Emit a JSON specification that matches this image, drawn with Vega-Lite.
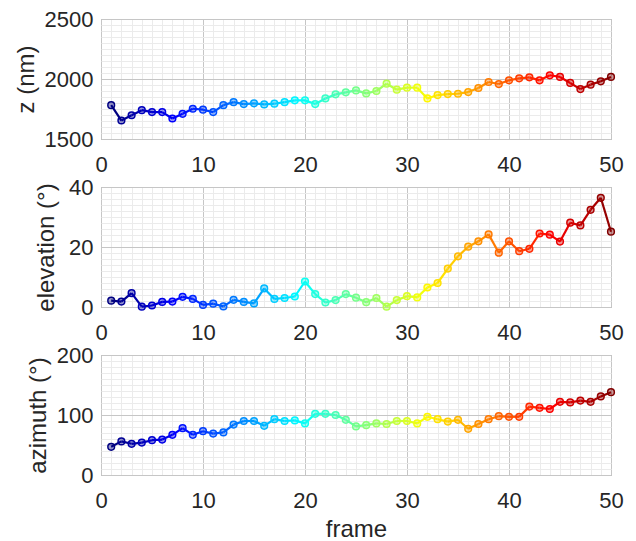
{
  "$schema": "https://vega.github.io/schema/vega-lite/v6.json",
  "padding": {"top": 7, "left": 13, "right": 5, "bottom": 0},
  "bounds": "flush",
  "spacing": 48,
  "config": {
    "view": {"stroke": "#a0a0a0", "strokeWidth": 1},
    "font": "Liberation Sans",
    "axis": {
      "labelFont": "Liberation Sans", "titleFont": "Liberation Sans",
      "labelFontSize": 22, "titleFontSize": 24, "titleFontWeight": "normal",
      "labelColor": "#262626", "titleColor": "#262626", "labelFlush": false, "labelOverlap": false,
      "domain": false, "ticks": false, "tickSize": 0, "format": "d",
      "gridColor": "#c6c6c6", "gridWidth": 1, "gridOpacity": 1
    }
  },
  "data": {"values": [
    {"frame":1,"z":1782,"elev":2.1,"azim":47},
    {"frame":2,"z":1654,"elev":1.8,"azim":56},
    {"frame":3,"z":1698,"elev":4.6,"azim":52},
    {"frame":4,"z":1740,"elev":0.1,"azim":54},
    {"frame":5,"z":1724,"elev":0.5,"azim":58},
    {"frame":6,"z":1724,"elev":1.7,"azim":59},
    {"frame":7,"z":1671,"elev":1.8,"azim":67},
    {"frame":8,"z":1710,"elev":3.4,"azim":78},
    {"frame":9,"z":1752,"elev":2.7,"azim":67},
    {"frame":10,"z":1744,"elev":0.7,"azim":73},
    {"frame":11,"z":1724,"elev":1.1,"azim":69},
    {"frame":12,"z":1782,"elev":0.2,"azim":71},
    {"frame":13,"z":1807,"elev":2.4,"azim":84},
    {"frame":14,"z":1791,"elev":1.7,"azim":90},
    {"frame":15,"z":1797,"elev":1.2,"azim":90},
    {"frame":16,"z":1788,"elev":6.2,"azim":82},
    {"frame":17,"z":1794,"elev":2.7,"azim":93},
    {"frame":18,"z":1807,"elev":3.0,"azim":90},
    {"frame":19,"z":1822,"elev":3.5,"azim":91},
    {"frame":20,"z":1822,"elev":8.5,"azim":86},
    {"frame":21,"z":1791,"elev":4.3,"azim":102},
    {"frame":22,"z":1838,"elev":1.5,"azim":102},
    {"frame":23,"z":1872,"elev":2.3,"azim":100},
    {"frame":24,"z":1889,"elev":4.3,"azim":92},
    {"frame":25,"z":1905,"elev":3.1,"azim":81},
    {"frame":26,"z":1880,"elev":1.6,"azim":83},
    {"frame":27,"z":1900,"elev":3.0,"azim":86},
    {"frame":28,"z":1961,"elev":0.1,"azim":85},
    {"frame":29,"z":1911,"elev":2.3,"azim":90},
    {"frame":30,"z":1928,"elev":3.6,"azim":90},
    {"frame":31,"z":1928,"elev":3.2,"azim":86},
    {"frame":32,"z":1838,"elev":6.5,"azim":97},
    {"frame":33,"z":1866,"elev":8.0,"azim":93},
    {"frame":34,"z":1874,"elev":12.8,"azim":89},
    {"frame":35,"z":1877,"elev":16.9,"azim":92},
    {"frame":36,"z":1891,"elev":20.1,"azim":77},
    {"frame":37,"z":1925,"elev":21.9,"azim":85},
    {"frame":38,"z":1975,"elev":24.2,"azim":93},
    {"frame":39,"z":1958,"elev":18.1,"azim":98},
    {"frame":40,"z":1989,"elev":21.9,"azim":97},
    {"frame":41,"z":2006,"elev":18.6,"azim":97},
    {"frame":42,"z":2014,"elev":19.4,"azim":114},
    {"frame":43,"z":1989,"elev":24.5,"azim":112},
    {"frame":44,"z":2031,"elev":24.1,"azim":110},
    {"frame":45,"z":2017,"elev":21.8,"azim":122},
    {"frame":46,"z":1967,"elev":28.1,"azim":121},
    {"frame":47,"z":1916,"elev":27.2,"azim":124},
    {"frame":48,"z":1953,"elev":32.4,"azim":122},
    {"frame":49,"z":1981,"elev":36.4,"azim":131},
    {"frame":50,"z":2017,"elev":25.1,"azim":138}
  ]},
  "transform": [
    {"window": [
      {"op": "lead", "field": "frame", "as": "frame2"},
      {"op": "lead", "field": "z", "as": "z2"},
      {"op": "lead", "field": "elev", "as": "elev2"},
      {"op": "lead", "field": "azim", "as": "azim2"}
    ], "sort": [{"field": "frame"}], "frame": [null, null]}
  ],
  "vconcat": [
    {
      "width": 510, "height": 120,
      "resolve": {"axis": {"x": "independent", "y": "independent"}},
      "layer": [
        {
          "transform": [{"filter": "datum.frame2 != null"}],
          "mark": {"type": "rule", "strokeWidth": 2.2},
          "encoding": {
            "x": {"field": "frame", "type": "quantitative", "scale": {"domain": [0, 50], "nice": false, "zero": false},
                  "axis": {"values": [0,10,20,30,40,50], "title": null, "labelPadding": 15, "grid": true}},
            "x2": {"field": "frame2"},
            "y": {"field": "z", "type": "quantitative", "scale": {"domain": [1500, 2500], "nice": false, "zero": false},
                  "axis": {"values": [1500,2000,2500], "title": "z (nm)", "labelPadding": 8, "titlePadding": 6, "grid": true}},
            "y2": {"field": "z2"},
            "color": {"field": "frame", "type": "quantitative", "legend": null,
                      "scale": {"domain": [1,7.125,19.375,31.625,43.875,50], "range": ["#000080","#0000ff","#00ffff","#ffff00","#ff0000","#800000"], "interpolate": "rgb"}}
          }
        },
        {
          "mark": {"type": "point", "filled": true, "size": 45, "fillOpacity": 0.4, "strokeWidth": 1.5, "strokeOpacity": 1},
          "encoding": {
            "x": {"field": "frame", "type": "quantitative", "scale": {"domain": [0, 50], "nice": false, "zero": false},
                  "axis": {"orient": "top", "labels": false, "title": null, "grid": true, "gridColor": "#ebebeb",
                           "values": [1,2,3,4,5,6,7,8,9,11,12,13,14,15,16,17,18,19,21,22,23,24,25,26,27,28,29,31,32,33,34,35,36,37,38,39,41,42,43,44,45,46,47,48,49]}},
            "y": {"field": "z", "type": "quantitative", "scale": {"domain": [1500, 2500], "nice": false, "zero": false},
                  "axis": {"orient": "right", "labels": false, "title": null, "grid": true, "gridColor": "#ebebeb",
                           "values": [1550,1600,1650,1700,1750,1800,1850,1900,1950,2050,2100,2150,2200,2250,2300,2350,2400,2450]}},
            "fill": {"field": "frame", "type": "quantitative", "legend": null,
                     "scale": {"domain": [1,7.125,19.375,31.625,43.875,50], "range": ["#000080","#0000ff","#00ffff","#ffff00","#ff0000","#800000"], "interpolate": "rgb"}},
            "stroke": {"field": "frame", "type": "quantitative", "legend": null,
                       "scale": {"domain": [1,7.125,19.375,31.625,43.875,50], "range": ["#000080","#0000ff","#00ffff","#ffff00","#ff0000","#800000"], "interpolate": "rgb"}}
          }
        }
      ]
    },
    {
      "width": 510, "height": 120,
      "resolve": {"axis": {"x": "independent", "y": "independent"}},
      "layer": [
        {
          "transform": [{"filter": "datum.frame2 != null"}],
          "mark": {"type": "rule", "strokeWidth": 2.2},
          "encoding": {
            "x": {"field": "frame", "type": "quantitative", "scale": {"domain": [0, 50], "nice": false, "zero": false},
                  "axis": {"values": [0,10,20,30,40,50], "title": null, "labelPadding": 15, "grid": true}},
            "x2": {"field": "frame2"},
            "y": {"field": "elev", "type": "quantitative", "scale": {"domain": [0, 40], "nice": false},
                  "axis": {"values": [0,20,40], "title": "elevation (°)", "labelPadding": 8, "titlePadding": 10, "grid": true}},
            "y2": {"field": "elev2"},
            "color": {"field": "frame", "type": "quantitative", "legend": null,
                      "scale": {"domain": [1,7.125,19.375,31.625,43.875,50], "range": ["#000080","#0000ff","#00ffff","#ffff00","#ff0000","#800000"], "interpolate": "rgb"}}
          }
        },
        {
          "mark": {"type": "point", "filled": true, "size": 45, "fillOpacity": 0.4, "strokeWidth": 1.5, "strokeOpacity": 1},
          "encoding": {
            "x": {"field": "frame", "type": "quantitative", "scale": {"domain": [0, 50], "nice": false, "zero": false},
                  "axis": {"orient": "top", "labels": false, "title": null, "grid": true, "gridColor": "#ebebeb",
                           "values": [1,2,3,4,5,6,7,8,9,11,12,13,14,15,16,17,18,19,21,22,23,24,25,26,27,28,29,31,32,33,34,35,36,37,38,39,41,42,43,44,45,46,47,48,49]}},
            "y": {"field": "elev", "type": "quantitative", "scale": {"domain": [0, 40], "nice": false},
                  "axis": {"orient": "right", "labels": false, "title": null, "grid": true, "gridColor": "#ebebeb",
                           "values": [2,4,6,8,10,12,14,16,18,22,24,26,28,30,32,34,36,38]}},
            "fill": {"field": "frame", "type": "quantitative", "legend": null,
                     "scale": {"domain": [1,7.125,19.375,31.625,43.875,50], "range": ["#000080","#0000ff","#00ffff","#ffff00","#ff0000","#800000"], "interpolate": "rgb"}},
            "stroke": {"field": "frame", "type": "quantitative", "legend": null,
                       "scale": {"domain": [1,7.125,19.375,31.625,43.875,50], "range": ["#000080","#0000ff","#00ffff","#ffff00","#ff0000","#800000"], "interpolate": "rgb"}}
          }
        }
      ]
    },
    {
      "width": 510, "height": 120,
      "resolve": {"axis": {"x": "independent", "y": "independent"}},
      "layer": [
        {
          "transform": [{"filter": "datum.frame2 != null"}],
          "mark": {"type": "rule", "strokeWidth": 2.2},
          "encoding": {
            "x": {"field": "frame", "type": "quantitative", "scale": {"domain": [0, 50], "nice": false, "zero": false},
                  "axis": {"values": [0,10,20,30,40,50], "title": "frame", "labelPadding": 15, "titlePadding": 6, "grid": true}},
            "x2": {"field": "frame2"},
            "y": {"field": "azim", "type": "quantitative", "scale": {"domain": [0, 200], "nice": false},
                  "axis": {"values": [0,100,200], "title": "azimuth (°)", "labelPadding": 8, "titlePadding": 6, "grid": true}},
            "y2": {"field": "azim2"},
            "color": {"field": "frame", "type": "quantitative", "legend": null,
                      "scale": {"domain": [1,7.125,19.375,31.625,43.875,50], "range": ["#000080","#0000ff","#00ffff","#ffff00","#ff0000","#800000"], "interpolate": "rgb"}}
          }
        },
        {
          "mark": {"type": "point", "filled": true, "size": 45, "fillOpacity": 0.4, "strokeWidth": 1.5, "strokeOpacity": 1},
          "encoding": {
            "x": {"field": "frame", "type": "quantitative", "scale": {"domain": [0, 50], "nice": false, "zero": false},
                  "axis": {"orient": "top", "labels": false, "title": null, "grid": true, "gridColor": "#ebebeb",
                           "values": [1,2,3,4,5,6,7,8,9,11,12,13,14,15,16,17,18,19,21,22,23,24,25,26,27,28,29,31,32,33,34,35,36,37,38,39,41,42,43,44,45,46,47,48,49]}},
            "y": {"field": "azim", "type": "quantitative", "scale": {"domain": [0, 200], "nice": false},
                  "axis": {"orient": "right", "labels": false, "title": null, "grid": true, "gridColor": "#ebebeb",
                           "values": [10,20,30,40,50,60,70,80,90,110,120,130,140,150,160,170,180,190]}},
            "fill": {"field": "frame", "type": "quantitative", "legend": null,
                     "scale": {"domain": [1,7.125,19.375,31.625,43.875,50], "range": ["#000080","#0000ff","#00ffff","#ffff00","#ff0000","#800000"], "interpolate": "rgb"}},
            "stroke": {"field": "frame", "type": "quantitative", "legend": null,
                       "scale": {"domain": [1,7.125,19.375,31.625,43.875,50], "range": ["#000080","#0000ff","#00ffff","#ffff00","#ff0000","#800000"], "interpolate": "rgb"}}
          }
        }
      ]
    }
  ]
}
